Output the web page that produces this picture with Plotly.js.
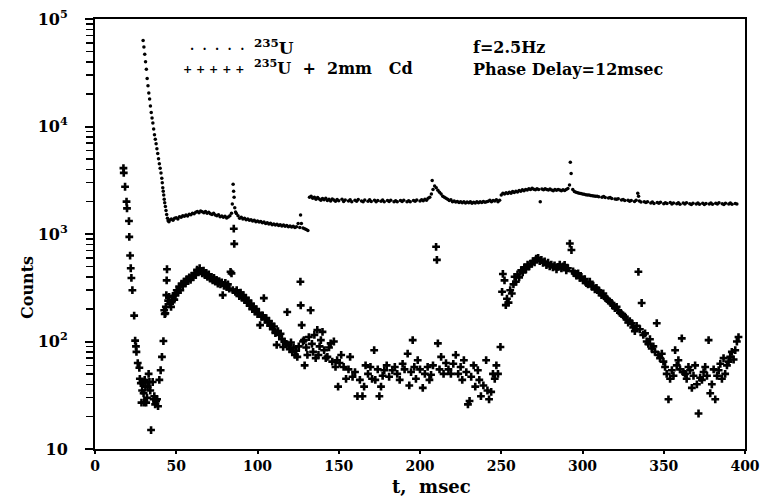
<!DOCTYPE html>
<html>
<head>
<meta charset="utf-8">
<script src="https://cdn.plot.ly/plotly-3.0.1.min.js"></script>
<style>html,body{margin:0;padding:0;background:#fff;}#chart{width:763px;height:497px;}</style>
</head>
<body>
<div id="chart"></div>
<script>
// 235U (no filter): time in msec, counts
const uTime = [
29.6,30.1,30.6,31.1,31.6,32.1,32.6,33.1,33.6,34.1,34.6,35.1,35.6,36.1,36.6,37.1,37.6,38.1,38.6,39.1,39.6,40.1,40.6,41.1,41.4,41.7,42.0,42.3,42.6,42.9,43.3,43.7,44.1,44.6,45,45.5,
46,47,48,49,50,51,52,53,54,55,56,57,58,59,60,61,62,63,64,65,66,67,68,69,70,71,72,73,74,75,76,77,78,79,80,81,82,83,84,84.5,85,85.3,85.6,86,86.5,87,88,89,90,91,92,93,94,95,96,97,98,99,100,101,102,103,104,105,106,107,108,109,110,111,112,113,114,115,116,117,118,119,120,121,122,123,124,125,126,126.5,127,128,129,130,131,
132,133,134,135,136,137,138,139,140,141,142,143,144,145,146,147,148,149,150,152,153,154,156,157,158,160,161,162,164,165,166,168,169,170,172,173,174,176,177,178,180,181,182,184,185,186,188,189,190,192,193,194,196,197,198,200,201,202,203,204,205,206,
207,207.5,208,209,210,211,212,213,214,215,216,217,218,219,220,221,222,223,224,225,226,227,228,229,230,231,232,233,234,235,236,237,238,239,240,241,242,243,244,245,246,247,248,249,
250,251,252,253,254,255,256,257,258,259,260,261,262,263,264,265,266,267,268,269,270,271,272,273,274,275,276,277,278,279,280,281,282,283,284,285,286,287,288,289,290,291,292,292.5,293,294,295,296,297,298,299,300,301,302,303,304,305,306,307,308,309,310,312,313,314,316,317,318,320,321,322,324,325,326,328,329,330,332,333,334,334.5,335,336,338,339,340,342,343,344,346,347,348,350,351,352,354,355,356,358,359,360,362,363,364,366,367,368,370,371,372,374,375,376,378,379,380,382,383,384,386,387,388,390,391,392,394,395
];
const uCounts = [
63000,55000,47000,40000,34000,28000,24000,20500,18000,15500,13500,12000,10800,9500,8400,7600,6900,6200,5600,5000,4500,4100,3700,3300,3000,2700,2500,2300,2100,1950,1800,1650,1520,1400,1330,1300,
1350,1380,1340,1400,1420,1380,1450,1430,1480,1460,1500,1470,1530,1510,1560,1540,1590,1620,1580,1640,1610,1580,1620,1560,1590,1540,1520,1560,1500,1480,1510,1450,1470,1430,1460,1410,1440,1480,1560,1900,2900,2500,2200,1750,1600,1550,1480,1400,1430,1380,1400,1360,1380,1340,1360,1320,1340,1300,1320,1290,1310,1270,1290,1250,1270,1240,1260,1220,1240,1210,1230,1200,1220,1190,1210,1180,1200,1170,1190,1160,1180,1150,1170,1250,1150,1500,1250,1140,1120,1100,1080,
2200,2250,2150,2200,2100,2180,2120,2060,2140,2080,2150,2050,2100,2030,2120,2070,2020,2090,2040,2100,2010,2070,2030,2080,2000,2060,2020,2090,2030,2000,2070,2020,2080,2010,2060,2000,2050,2020,2070,2000,2050,2010,2060,2000,2040,1990,2050,2010,2060,2000,2040,1990,2050,2020,2070,2030,2080,2040,2100,2060,2150,2200,
2350,3150,2600,2800,2700,2550,2450,2350,2250,2200,2150,2100,2050,2080,2000,2030,1980,2010,1960,2000,1950,1990,1940,1980,1950,1990,1930,1970,1940,1990,1950,2000,1960,2010,1970,2000,2020,2060,2000,2050,2030,2080,2000,2060,
2300,2400,2350,2420,2380,2450,2400,2480,2430,2500,2460,2540,2500,2580,2530,2600,2560,2640,2600,2660,2610,2580,2640,2600,2000,2620,2580,2640,2590,2560,2620,2570,2530,2590,2550,2600,2560,2520,2580,2540,2600,2650,2850,4650,3650,2600,2480,2450,2420,2400,2380,2360,2340,2320,2300,2310,2280,2270,2260,2240,2250,2220,2200,2230,2180,2160,2190,2140,2120,2100,2130,2070,2090,2050,2060,2020,2050,2010,2060,2400,2250,2030,1980,2000,1960,1990,1940,1980,1920,1960,1930,1970,1910,1950,1920,1960,1900,1940,1910,1950,1890,1940,1900,1950,1910,1880,1930,1900,1940,1890,1930,1880,1920,1900,1940,1890,1930,1900,1950,1910,1880,1930,1900,1940,1890,1920,1900
];

// 235U + 2mm Cd: time in msec, counts
const cdTime = [
17.5,17.7,18.5,19.4,19.7,20.9,21.1,21.6,22.0,22.4,23.0,24.1,24.7,25.2,25.5,26.3,27.3,27.6,28.2,28.6,29.0,29.4,29.9,30.3,30.6,31.0,31.5,32.0,32.4,33.0,33.5,34.0,34.5,35.5,36.0,36.5,37.0,37.6,38.2,38.8,39.6,40.4,41.2,42.1,42.6,42.9,43.3,43.6,43.9,44.1,44.3,45.0,45.6,46.2,46.8,47.4,48.0,48.8,49.5,50.3,51.0,51.8,52.5,53.3,54.0,54.8,55.6,56.4,57.2,58.0,58.8,59.6,60.4,61.2,62.0,62.8,63.6,64.4,65.2,66.0,66.8,67.6,68.4,69.2,70.0,70.8,71.6,72.4,73.2,74.0,74.8,75.6,76.4,77.2,78.0,78.6,79.4,80.2,81.0,81.8,82.6,83.4,84.0,84.8,85.4,85.7,86.4,87.2,88.0,88.8,89.6,90.4,91.2,92.0,92.8,93.6,94.4,95.2,96.0,96.8,97.6,98.4,99.2,100.0,100.8,101.6,102.4,103.2,103.9,104.6,105.4,106.2,107.0,107.8,108.6,109.4,110.2,111.0,111.8,112.6,113.4,114.2,115.0,115.8,116.6,117.4,118.3,119.0,119.8,120.6,121.4,122.2,123.0,123.8,124.5,125.4,126.4,126.6,127.2,128.0,128.6,129.0,130.0,130.7,131.6,132.7,133.5,134.2,135.0,135.8,136.8,137.5,138.2,139.0,140.0,141.0,142.0,143.0,144.0,145.0,146.0,147.0,148.0,149.0,149.6,150.5,151.5,153.0,154.5,156.0,157.0,158.5,160.0,161.5,163.0,164.6,165.6,166.5,168.0,169.5,170.5,171.8,172.5,174.0,175.0,176.0,177.0,178.0,179.5,181.0,183.0,184.5,186.0,187.5,189.3,190.5,192.4,193.4,194.5,195.5,196.5,197.5,198.6,200.0,201.7,203.0,204.7,205.8,206.8,208.0,209.9,210.4,211.0,212.0,213.0,214.5,216.0,217.5,219.0,220.5,222.0,223.5,225.0,226.0,227.0,228.5,229.5,230.5,231.5,233.0,234.0,235.6,236.5,237.5,239.0,240.7,241.5,242.5,243.8,244.9,246.0,247.0,248.0,249.5,250.5,251.0,252.0,252.8,253.5,254.5,255.5,256.5,257.5,258.2,259.0,260.0,261.0,262.3,263.2,264.2,265.2,266.2,267.2,268.5,269.5,270.5,271.5,272.7,273.7,274.7,275.7,276.7,277.8,278.8,279.8,280.8,281.8,282.8,284.0,285.0,286.0,287.0,288.0,289.0,290.0,291.0,292.2,293.2,294.2,295.2,296.2,297.3,298.3,299.3,300.3,301.4,302.4,303.4,304.5,305.6,306.6,307.6,308.6,309.7,310.7,311.7,312.8,313.8,314.8,315.8,316.8,317.9,318.9,319.9,321.0,322.0,323.0,324.0,325.0,326.1,327.1,328.1,329.1,330.2,331.2,332.2,333.3,334.4,335.3,336.4,337.4,338.5,339.5,340.5,341.5,342.6,343.6,344.6,345.7,346.7,347.7,348.8,349.8,350.8,351.8,352.9,353.9,355.0,356.0,357.0,358.0,359.0,360.0,361.1,362.1,363.1,364.1,365.2,366.2,367.3,368.3,369.3,370.4,371.4,372.4,373.5,374.5,375.5,376.6,377.6,378.6,379.6,380.7,381.7,382.8,383.8,384.8,385.8,386.8,387.8,388.9,389.9,390.9,391.9,393.0,394.0,395.0,396.0
];
const cdCounts = [
4100,3700,2750,2000,1730,1320,940,630,480,390,300,174,102,90,80,63,57,45,41,27,35,41,33,27,44,38,27,30,38,50,42,35,15,42,29,31,26,28,29,25,44,54,72,101,195,180,183,210,270,370,470,240,260,225,210,240,265,245,270,300,285,325,300,345,330,360,345,380,365,395,375,410,395,430,415,465,445,480,450,430,455,415,435,400,420,385,400,370,390,360,375,345,365,340,355,270,330,350,320,340,310,445,430,300,1120,810,290,300,280,265,285,255,270,245,255,230,240,215,225,200,210,190,200,180,185,142,170,175,253,160,165,150,155,140,145,130,138,120,93,125,115,118,105,89,100,95,188,92,85,98,80,88,75,82,72,90,360,217,142,100,103,60,88,75,110,195,95,80,115,70,128,75,90,103,123,83,70,72,88,96,65,100,58,67,38,63,75,58,45,55,72,47,52,31,44,31,38,60,50,58,45,83,44,55,31,38,48,54,60,47,54,58,50,44,62,55,77,39,52,103,58,45,67,55,37,50,58,44,49,60,760,575,96,55,72,50,63,55,50,62,75,50,58,44,67,52,26,28,47,60,38,54,44,31,39,67,35,29,34,50,45,60,50,89,290,425,370,218,250,230,300,280,340,400,360,420,395,460,440,490,470,520,500,530,560,545,590,600,560,575,540,555,515,540,500,520,490,510,470,495,520,480,500,515,460,480,815,710,450,430,410,430,390,400,370,380,350,340,360,325,330,305,315,300,285,270,280,260,250,240,235,228,215,205,210,195,185,180,175,170,160,150,155,148,135,125,140,445,130,228,115,119,100,95,105,86,90,80,148,75,70,77,65,58,50,29,45,54,48,83,60,67,55,107,52,50,45,58,54,37,48,60,40,21.4,46,44,52,58,48,103,33,40,55,29,48,54,62,45,70,50,60,65,72,80,68,83,100,110
];

const xTickVals = [0,50,100,150,200,250,300,350,400];
const yTickVals = [10,100,1000,10000,100000];
const yTickText = ['10','10<sup>2</sup>','10<sup>3</sup>','10<sup>4</sup>','10<sup>5</sup>'];

const F = 'DejaVu Serif';
const traces = [
  {x: uTime, y: uCounts, type: 'scatter', mode: 'markers', name: '235U',
   marker: {symbol: 'circle', size: 3.5, color: '#000'}},
  {x: cdTime, y: cdCounts, type: 'scatter', mode: 'markers', name: '235U + 2mm Cd',
   marker: {symbol: 'cross', size: 6.5, color: '#000'}}
];

// pixel helpers for annotation placement (plot area L..R x T..B)
const L = 95, R = 745, T = 19, B = 449;
const px = v => (v - L) / (R - L);
const py = v => (B - v) / (B - T);
const NB = '\u00A0';

function ann(x, y, text, size, opts) {
  return Object.assign({xref: 'paper', yref: 'paper', x: px(x), y: py(y), text: text,
    showarrow: false, xanchor: 'left', yanchor: 'middle',
    font: {family: F, size: size, color: '#000', weight: 'bold'}}, opts || {});
}

const layout = {
  width: 763, height: 497,
  margin: {l: L, r: 763 - R, t: T, b: 497 - B, pad: 0},
  paper_bgcolor: '#fff', plot_bgcolor: '#fff',
  showlegend: false,
  xaxis: {
    range: [0, 400], tickvals: xTickVals, ticktext: xTickVals.map(String),
    showgrid: false, zeroline: false, showline: true, mirror: true,
    linecolor: '#000', linewidth: 2, ticks: 'outside', ticklen: 3, tickwidth: 2, tickcolor: '#000',
    tickfont: {family: F, size: 14, color: '#000', weight: 'bold'}
  },
  yaxis: {
    type: 'log', range: [1, 5], tickvals: yTickVals, ticktext: yTickText,
    showgrid: false, zeroline: false, showline: true, mirror: true,
    linecolor: '#000', linewidth: 2, ticks: 'outside', ticklen: 8, tickwidth: 2, tickcolor: '#000',
    ticklabelstandoff: 14,
    minor: {dtick: 'D1', ticks: 'outside', ticklen: 7, tickwidth: 1.5, tickcolor: '#000', showgrid: false},
    tickfont: {family: F, size: 16, color: '#000', weight: 'bold'}
  },
  annotations: [
    ann(246, 49, '·' + NB + NB + '·' + NB + NB + '·' + NB + NB + '·' + NB + NB + '·', 12, {xanchor: 'right'}),
    ann(246, 69, '+' + NB + '+' + NB + '+' + NB + '+' + NB + '+', 11, {xanchor: 'right'}),
    ann(252, 47, '<sup>235</sup>U', 17),
    ann(252, 67, '<sup>235</sup>U' + NB + NB + '+' + NB + NB + '2mm' + NB + NB + NB + 'Cd', 16),
    ann(471, 48, 'f=2.5Hz', 16),
    ann(471, 69, 'Phase' + NB + 'Delay=12msec', 16),
    ann(431, 486, 't,' + NB + NB + 'msec', 18, {xanchor: 'center'}),
    ann(27, 288, 'Counts', 16, {xanchor: 'center', textangle: -90})
  ]
};

Plotly.newPlot('chart', traces, layout, {displayModeBar: false, staticPlot: true});
</script>
</body>
</html>
